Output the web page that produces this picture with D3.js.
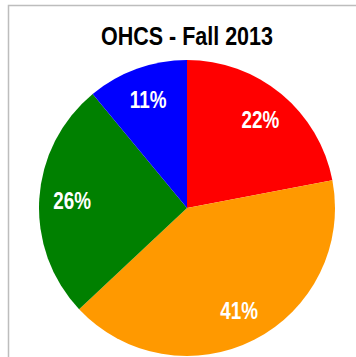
<!DOCTYPE html>
<html><head><meta charset="utf-8">
<script src="https://cdn.jsdelivr.net/npm/d3@7"></script>
<style>html,body{margin:0;padding:0;background:#fff;}</style>
</head><body>
<script>
const categories = ["A", "B", "C", "D"];
const values = [22, 41, 26, 11];
const labels = ["22%", "41%", "26%", "11%"];
const colors = ["#ff0000", "#ff9900", "#008000", "#0000ff"];
const title = "OHCS - Fall 2013";

const W = 356, H = 357;
const svg = d3.select("body").append("svg").attr("width", W).attr("height", H);
const font = "'Liberation Sans', Arial, sans-serif";

svg.append("path").attr("d", `M8.5,${H} V5.5 H${W}`).attr("fill", "none").attr("stroke", "#bdbdbd").attr("stroke-width", 1.5);

svg.append("text").attr("transform", "translate(187,45) scale(0.86,1)").attr("text-anchor", "middle")
  .attr("font-family", font).attr("font-weight", "bold").attr("font-size", 25).attr("fill", "#000").text(title);

const cx = 187, cy = 208, r = 148;
const pie = d3.pie().sort(null).value(d => d)(values);
const arc = d3.arc().innerRadius(0).outerRadius(r);
const g = svg.append("g").attr("transform", `translate(${cx},${cy})`);
g.selectAll("path").data(pie).join("path").attr("d", arc).attr("fill", (d, i) => colors[i]);
const lab = d3.arc().innerRadius(115).outerRadius(115);
g.selectAll("text").data(pie).join("text")
  .attr("transform", d => `translate(${lab.centroid(d)}) scale(0.82,1)`)
  .attr("text-anchor", "middle").attr("dy", "0.36em")
  .attr("font-family", font).attr("font-weight", "bold").attr("font-size", 23).attr("fill", "#fff")
  .text((d, i) => labels[i]);
</script>
</body></html>
